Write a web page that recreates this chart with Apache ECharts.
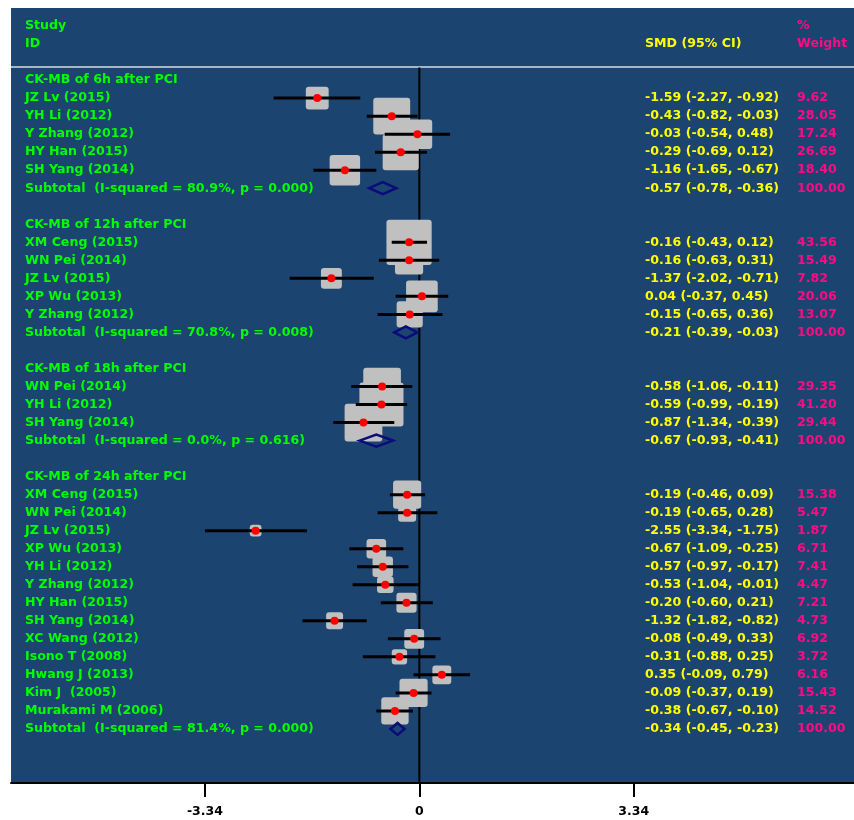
<!DOCTYPE html>
<html>
<head>
<meta charset="utf-8">
<title>CK-MB SMD forest plot</title>
<style>html,body{margin:0;padding:0;background:#fff;}</style>
</head>
<body>
<script src="https://cdn.jsdelivr.net/npm/echarts@6/dist/echarts.min.js"></script>
<div id="container" style="width:854px;height:820px;"></div>
<script>
// subgroups
var groupTitles = ['CK-MB of 6h after PCI', 'CK-MB of 12h after PCI', 'CK-MB of 18h after PCI', 'CK-MB of 24h after PCI'];
var groupI2 = ['80.9%', '70.8%', '0.0%', '81.4%'];
var groupP = ['0.000', '0.008', '0.616', '0.000'];
var groupSmd = [-0.57, -0.21, -0.67, -0.34];
var groupLo = [-0.78, -0.39, -0.93, -0.45];
var groupHi = [-0.36, -0.03, -0.41, -0.23];

// studies (group index per study)
var studyGroup = [0, 0, 0, 0, 0, 1, 1, 1, 1, 1, 2, 2, 2, 3, 3, 3, 3, 3, 3, 3, 3, 3, 3, 3, 3, 3];
var studyNames = ['JZ Lv (2015)', 'YH Li (2012)', 'Y Zhang (2012)', 'HY Han (2015)', 'SH Yang (2014)',
  'XM Ceng (2015)', 'WN Pei (2014)', 'JZ Lv (2015)', 'XP Wu (2013)', 'Y Zhang (2012)',
  'WN Pei (2014)', 'YH Li (2012)', 'SH Yang (2014)',
  'XM Ceng (2015)', 'WN Pei (2014)', 'JZ Lv (2015)', 'XP Wu (2013)', 'YH Li (2012)', 'Y Zhang (2012)',
  'HY Han (2015)', 'SH Yang (2014)', 'XC Wang (2012)', 'Isono T (2008)', 'Hwang J (2013)', 'Kim J  (2005)', 'Murakami M (2006)'];
var studySmd = [-1.59, -0.43, -0.03, -0.29, -1.16,
  -0.16, -0.16, -1.37, 0.04, -0.15,
  -0.58, -0.59, -0.87,
  -0.19, -0.19, -2.55, -0.67, -0.57, -0.53, -0.20, -1.32, -0.08, -0.31, 0.35, -0.09, -0.38];
var studyLo = [-2.27, -0.82, -0.54, -0.69, -1.65,
  -0.43, -0.63, -2.02, -0.37, -0.65,
  -1.06, -0.99, -1.34,
  -0.46, -0.65, -3.34, -1.09, -0.97, -1.04, -0.60, -1.82, -0.49, -0.88, -0.09, -0.37, -0.67];
var studyHi = [-0.92, -0.03, 0.48, 0.12, -0.67,
  0.12, 0.31, -0.71, 0.45, 0.36,
  -0.11, -0.19, -0.39,
  0.09, 0.28, -1.75, -0.25, -0.17, -0.01, 0.21, -0.82, 0.33, 0.25, 0.79, 0.19, -0.10];
var studyWeight = [9.62, 28.05, 17.24, 26.69, 18.40,
  43.56, 15.49, 7.82, 20.06, 13.07,
  29.35, 41.20, 29.44,
  15.38, 5.47, 1.87, 6.71, 7.41, 4.47, 7.21, 4.73, 6.92, 3.72, 6.16, 15.43, 14.52];
var xTicks = [-3.34, 0, 3.34];

// build the row list
var rows = [];
rows.push({type: 'head', row: -3, left: 'Study', mid: '', right: '%'});
rows.push({type: 'head', row: -2, left: 'ID', mid: 'SMD (95% CI)', right: 'Weight'});
var r = 0;
for (var g = 0; g < groupTitles.length; g++) {
  rows.push({type: 'title', row: r++, left: groupTitles[g]});
  for (var i = 0; i < studyNames.length; i++) {
    if (studyGroup[i] !== g) continue;
    rows.push({type: 'study', row: r++, left: studyNames[i], smd: studySmd[i], lo: studyLo[i], hi: studyHi[i], w: studyWeight[i]});
  }
  rows.push({type: 'sub', row: r++, left: 'Subtotal  (I-squared = ' + groupI2[g] + ', p = ' + groupP[g] + ')',
    smd: groupSmd[g], lo: groupLo[g], hi: groupHi[g], w: 100});
  r++;
}
rows.forEach(function (d) {
  if (d.type === 'study' || d.type === 'sub') {
    d.mid = d.smd.toFixed(2) + ' (' + d.lo.toFixed(2) + ', ' + d.hi.toFixed(2) + ')';
    d.right = d.w.toFixed(2);
  }
});

var font = 'bold 12.6px "DejaVu Sans"';

function renderRow(params, api) {
  var d = rows[params.dataIndex];
  var cs = params.coordSys;
  var y = api.coord([0, d.row])[1];
  var kids = [];
  kids.push({type: 'text', z2: 5, style: {text: d.left, x: cs.x + 14, y: y, fill: '#00ff00', font: font, verticalAlign: 'middle'}});
  if (d.mid) kids.push({type: 'text', z2: 5, style: {text: d.mid, x: cs.x + 634, y: y, fill: '#ffff00', font: font, verticalAlign: 'middle'}});
  if (d.right) kids.push({type: 'text', z2: 5, style: {text: d.right, x: cs.x + 786, y: y, fill: '#ff0a82', font: font, verticalAlign: 'middle'}});
  if (d.type === 'study') {
    var cx = api.coord([d.smd, d.row])[0];
    var x1 = api.coord([d.lo, d.row])[0];
    var x2 = api.coord([d.hi, d.row])[0];
    var s = 3 + 6.4 * Math.sqrt(d.w);
    kids.push({type: 'rect', z2: 1, shape: {x: cx - s / 2, y: y - s / 2, width: s, height: s, r: 3}, style: {fill: '#c0c0c0'}});
    kids.push({type: 'line', z2: 2, shape: {x1: x1, y1: y, x2: x2, y2: y}, style: {stroke: '#000', lineWidth: 3}});
    kids.push({type: 'circle', z2: 3, shape: {cx: cx, cy: y, r: 4}, style: {fill: '#ff0000'}});
  } else if (d.type === 'sub') {
    var c = api.coord([d.smd, d.row])[0];
    var a = api.coord([d.lo, d.row])[0];
    var b = api.coord([d.hi, d.row])[0];
    kids.push({type: 'polygon', z2: 3, shape: {points: [[a, y], [c, y - 6], [b, y], [c, y + 6]]},
      style: {fill: null, stroke: '#0b0b7a', lineWidth: 2.5}});
  }
  return {type: 'group', children: kids};
}

function renderFrame(params, api) {
  var cs = params.coordSys;
  var top = api.coord([0, -0.7]);
  var bot = api.coord([0, 39]);
  var sep = api.coord([0, -0.72])[1];
  return {type: 'group', children: [
    {type: 'line', shape: {x1: cs.x, y1: sep, x2: cs.x + cs.width, y2: sep}, style: {stroke: '#d4dce4', lineWidth: 1.5}},
    {type: 'line', shape: {x1: top[0], y1: top[1], x2: bot[0], y2: bot[1]}, style: {stroke: '#000', lineWidth: 2}}
  ]};
}

var myChart = echarts.init(document.getElementById('container'));
var option = {
  animation: false,
  grid: {left: 11, right: 0, top: 8, bottom: 37, show: true, backgroundColor: '#1b4570', borderWidth: 0},
  xAxis: {
    type: 'value', min: -6.36, max: 6.77,
    splitLine: {show: false},
    axisLine: {show: true, onZero: false, lineStyle: {color: '#000', width: 2}},
    axisTick: {show: true, customValues: xTicks, length: 14, lineStyle: {color: '#000', width: 2}},
    axisLabel: {customValues: xTicks, color: '#000', fontWeight: 'bold', fontSize: 12.5, fontFamily: 'DejaVu Sans', margin: 22,
      formatter: function (v) { return v === 0 ? '0' : v.toFixed(2); }}
  },
  yAxis: {type: 'value', min: -4, max: 39, inverse: true, show: false},
  series: [
    {type: 'custom', z: 1, renderItem: renderFrame, data: [[0, 0]], silent: true},
    {type: 'custom', z: 2, renderItem: renderRow, encode: {x: 0, y: 1}, silent: true,
      data: rows.map(function (d) { return [d.smd || 0, d.row]; })}
  ]
};
myChart.setOption(option);
window.addEventListener('resize', myChart.resize);
</script>
</body>
</html>
